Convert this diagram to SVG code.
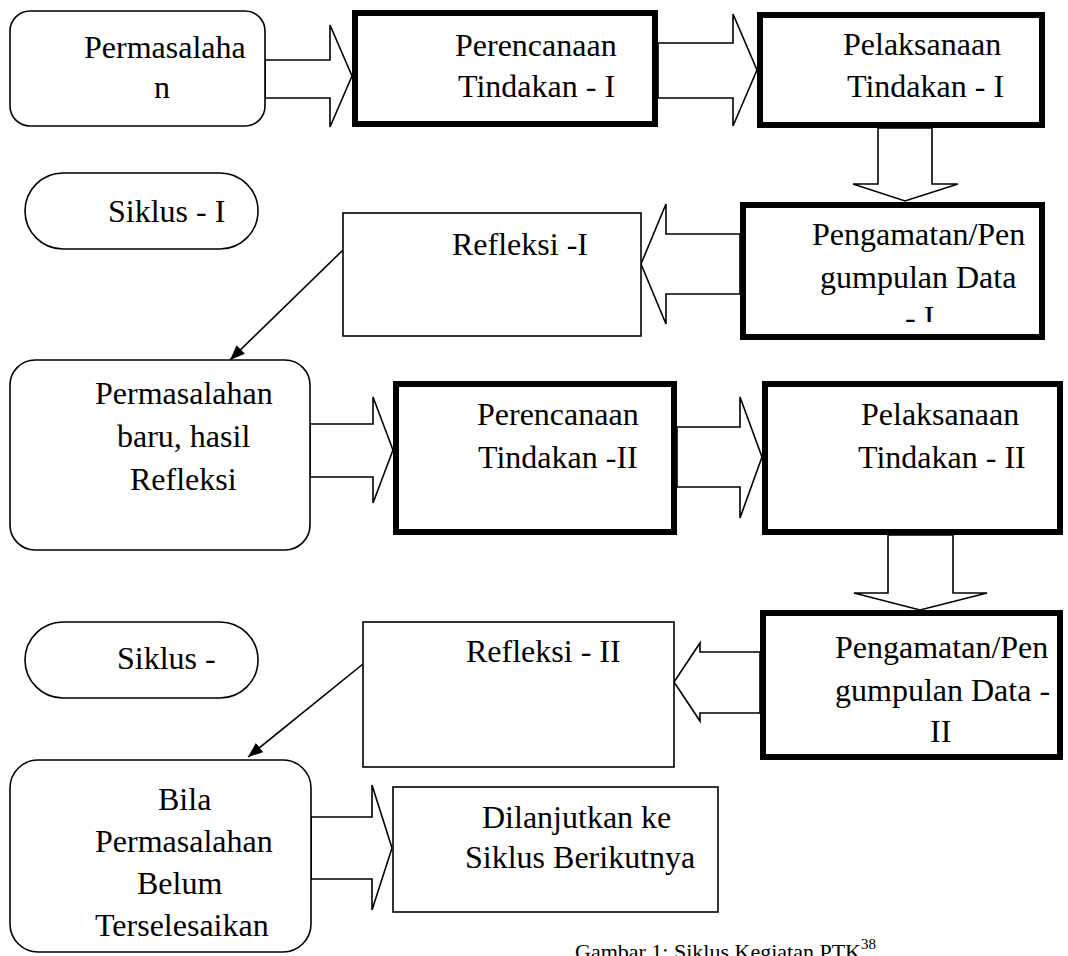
<svg xmlns="http://www.w3.org/2000/svg" width="1068" height="956" viewBox="0 0 1068 956">
<style>
text{font-family:"Liberation Serif","Times New Roman",serif;font-size:32px;fill:#000}
.thin{fill:#fff;stroke:#000;stroke-width:1.6}
.thick{fill:#fff;stroke:#000;stroke-width:6}
.blk{fill:#fff;stroke:#000;stroke-width:1.6;stroke-linejoin:miter}
.con{stroke:#000;stroke-width:1.6;fill:none}
.cap{font-size:22px}
</style>
<defs>
<marker id="ah" viewBox="0 0 15 12" refX="15" refY="6" markerWidth="15" markerHeight="12" markerUnits="userSpaceOnUse" orient="auto"><path d="M0,0 L15,6 L0,12 z" fill="#000"/></marker>
<clipPath id="clipI"><rect x="743" y="205" width="299" height="117"/></clipPath>
</defs>
<rect width="1068" height="956" fill="#fff"/>

<g id="connectors">
<polygon class="blk" points="265,60 330,60 330,25 352,76 330,127 330,98 265,98"/>
<polygon class="blk" points="658,43 733,43 733,14 757,70 733,126 733,98 658,98"/>
<polygon class="blk" points="878,128 932,128 932,184 958,184 905,201 853,184 878,184"/>
<polygon class="blk" points="740,234 666,234 666,204 641,264 666,324 666,294 740,294"/>
<line class="con" x1="343" y1="250" x2="230" y2="360" marker-end="url(#ah)"/>
<polygon class="blk" points="310,424 373,424 373,397 393,450 373,503 373,477 310,477"/>
<polygon class="blk" points="677,427 740,427 740,397 762,457 740,518 740,487 677,487"/>
<polygon class="blk" points="888,535 953,535 953,593 987,593 920,610 854,593 888,593"/>
<polygon class="blk" points="760,652 700,652 700,643 674,682 700,721 700,713 760,713"/>
<line class="con" x1="363" y1="664" x2="248" y2="757" marker-end="url(#ah)"/>
<polygon class="blk" points="311,817 372,817 372,785 392,848 372,910 372,879 311,879"/>
</g>

<g id="n1"><rect class="thin" x="10" y="11" width="255" height="115" rx="20"/>
<text x="84" y="58">Permasalaha</text><text x="154" y="98">n</text></g>

<g id="n2"><rect class="thick" x="355" y="13" width="300" height="111"/>
<text x="455" y="56">Perencanaan</text><text x="458" y="97">Tindakan - I</text></g>

<g id="n3"><rect class="thick" x="760" y="15" width="282" height="110"/>
<text x="843" y="55">Pelaksanaan</text><text x="847" y="97">Tindakan - I</text></g>

<g id="n4"><rect class="thick" x="743" y="205" width="299" height="132"/>
<text x="812" y="245">Pengamatan/Pen</text><text x="820" y="288">gumpulan Data</text>
<text x="905" y="328" clip-path="url(#clipI)">- I</text></g>

<g id="n5"><rect class="thin" x="343" y="213" width="298" height="123"/>
<text x="452" y="255">Refleksi -I</text></g>

<g id="n6"><rect class="thin" x="25" y="173" width="233" height="76" rx="38"/>
<text x="108" y="222">Siklus - I</text></g>

<g id="n7"><rect class="thin" x="10" y="360" width="300" height="190" rx="25"/>
<text x="95" y="404">Permasalahan</text><text x="117" y="447">baru, hasil</text><text x="130" y="490">Refleksi</text></g>

<g id="n8"><rect class="thick" x="396" y="384" width="278" height="148"/>
<text x="477" y="425">Perencanaan</text><text x="478" y="468">Tindakan -II</text></g>

<g id="n9"><rect class="thick" x="765" y="384" width="295" height="148"/>
<text x="861" y="425">Pelaksanaan</text><text x="858" y="468">Tindakan - II</text></g>

<g id="n10"><rect class="thick" x="763" y="613" width="297" height="144"/>
<text x="835" y="658">Pengamatan/Pen</text><text x="835" y="701">gumpulan Data -</text><text x="930" y="742">II</text></g>

<g id="n11"><rect class="thin" x="363" y="622" width="311" height="145"/>
<text x="466" y="662">Refleksi - II</text></g>

<g id="n12"><rect class="thin" x="25" y="622" width="233" height="76" rx="38"/>
<text x="117" y="669">Siklus -</text></g>

<g id="n13"><rect class="thin" x="10" y="760" width="301" height="192" rx="28"/>
<text x="158" y="810">Bila</text><text x="95" y="852">Permasalahan</text><text x="137" y="894">Belum</text><text x="95" y="936">Terselesaikan</text></g>

<g id="n14"><rect class="thin" x="393" y="787" width="325" height="125"/>
<text x="482" y="828">Dilanjutkan ke</text><text x="465" y="868">Siklus Berikutnya</text></g>

<g id="caption"><text class="cap" x="575" y="959">Gambar 1: Siklus Kegiatan PTK<tspan font-size="15" dy="-10">38</tspan></text></g>
</svg>
